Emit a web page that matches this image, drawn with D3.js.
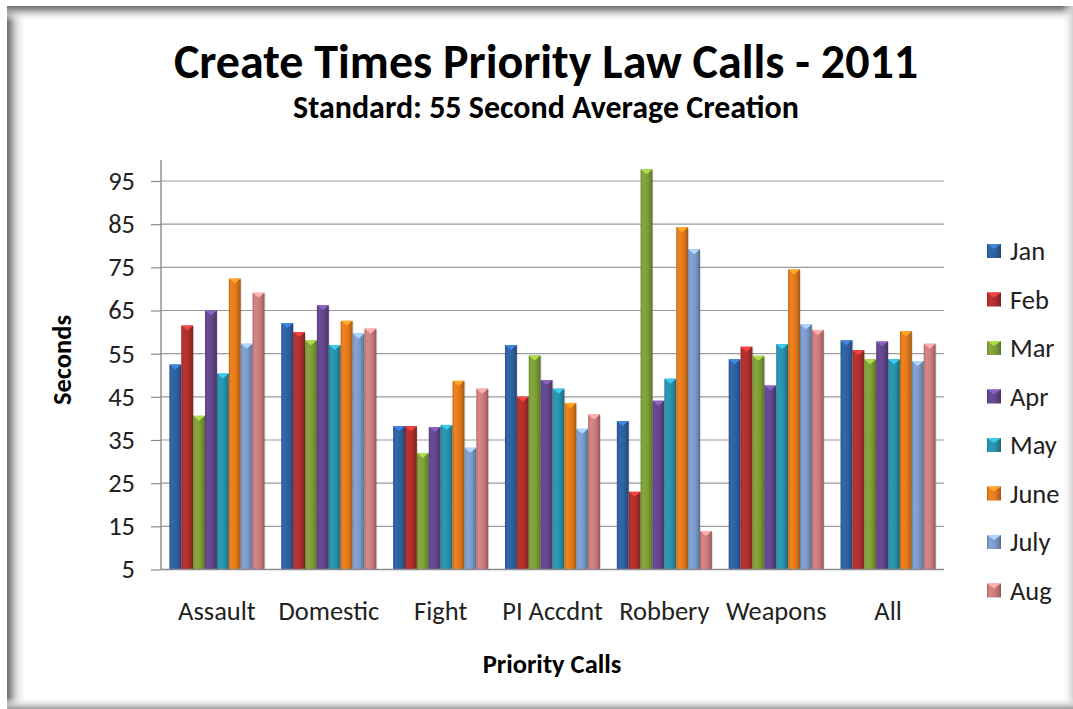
<!DOCTYPE html>
<html><head><meta charset="utf-8">
<script src="https://cdn.jsdelivr.net/npm/d3@7"></script>
<style>
html,body{margin:0;padding:0;background:#fff;}
svg{display:block;font-family:Carlito,Lato,"Open Sans",sans-serif;}
</style></head>
<body>
<svg id="c" width="1073" height="709"></svg>
<script>
const categories = ["Assault","Domestic","Fight","PI Accdnt","Robbery","Weapons","All"];
const months = ["Jan","Feb","Mar","Apr","May","June","July","Aug"];
const Jan  = [52.5, 62.1, 38.2, 57.0, 39.4, 53.7, 58.1];
const Feb  = [61.5, 60.0, 38.2, 45.0, 23.0, 56.6, 55.8];
const Mar  = [40.6, 58.1, 32.0, 54.6, 97.7, 54.5, 53.7];
const Apr  = [65.0, 66.2, 38.0, 48.9, 44.1, 47.6, 57.8];
const May  = [50.4, 57.0, 38.5, 46.9, 49.2, 57.2, 53.7];
const June = [72.4, 62.6, 48.7, 43.6, 84.3, 74.5, 60.2];
const July = [57.3, 59.7, 33.2, 37.6, 79.2, 61.8, 53.3];
const Aug  = [69.1, 60.8, 46.9, 40.9, 13.9, 60.5, 57.3];
const series = [Jan, Feb, Mar, Apr, May, June, July, Aug];
const yTicks = [5,15,25,35,45,55,65,75,85,95];
const colors = ["#2f62a3","#b0302e","#7fa038","#63488c","#2a93ad","#e57b1c","#7d9ccb","#cc7f7e"];

(function(){
const svg = d3.select("#c");
const defs = svg.append("defs");
const LBL = 26.5;

function lg(id, x1,y1,x2,y2, stops){
  const g = defs.append("linearGradient").attr("id",id).attr("x1",x1).attr("y1",y1).attr("x2",x2).attr("y2",y2);
  stops.forEach(s=>g.append("stop").attr("offset",s[0]).attr("stop-color",s[1]).attr("stop-opacity",s[2]));
}
lg("gl",0,0,1,0,[[0,"#6e6e6e",1],[0.15,"#8a8a8a",1],[0.5,"#cfcfcf",0.7],[1,"#ffffff",0]]);
lg("gt",0,0,0,1,[[0,"#6e6e6e",1],[0.2,"#959595",1],[0.6,"#d8d8d8",0.6],[1,"#ffffff",0]]);
lg("gr",1,0,0,0,[[0,"#d0d0d0",1],[1,"#ffffff",0]]);
lg("gb",0,1,0,0,[[0,"#9a9a9a",1],[0.4,"#d5d5d5",0.8],[1,"#ffffff",0]]);
svg.append("rect").attr("x",7).attr("y",6).attr("width",1066).attr("height",703).attr("fill","#fff");
svg.append("rect").attr("x",7).attr("y",6).attr("width",20).attr("height",703).attr("fill","url(#gl)");
svg.append("rect").attr("x",7).attr("y",6).attr("width",1066).attr("height",16).attr("fill","url(#gt)");
svg.append("rect").attr("x",1062).attr("y",6).attr("width",11).attr("height",703).attr("fill","url(#gr)");
svg.append("rect").attr("x",7).attr("y",697).attr("width",1066).attr("height",12).attr("fill","url(#gb)");

colors.forEach((c,i)=>{
  const base = d3.color(c);
  const g = defs.append("linearGradient").attr("id","b"+i).attr("x1",0).attr("x2",1).attr("y1",0).attr("y2",0);
  g.append("stop").attr("offset",0).attr("stop-color",base.darker(0.5));
  g.append("stop").attr("offset",0.18).attr("stop-color",base.brighter(0.15));
  g.append("stop").attr("offset",0.55).attr("stop-color",base);
  g.append("stop").attr("offset",0.85).attr("stop-color",base.darker(0.5));
  g.append("stop").attr("offset",1).attr("stop-color",base.darker(1.1));
});

const pL = 161, pR = 944, pT = 181, pB = 569.5;
const y = d3.scaleLinear().domain([5,95]).range([pB, pT]);
const x0 = d3.scaleBand().domain(categories).range([pL,pR]).paddingInner(0.15).paddingOuter(0.075);
const x1 = d3.scaleBand().domain(d3.range(months.length)).range([0, x0.bandwidth()]);

svg.append("g").selectAll("line").data(yTicks.slice(1)).join("line")
  .attr("x1",pL).attr("x2",pR).attr("y1",d=>y(d)).attr("y2",d=>y(d))
  .attr("stroke","#9a9a9a").attr("stroke-width",1.2);

const ya = svg.append("g").attr("transform",`translate(${pL},0)`)
  .call(d3.axisLeft(y).tickValues(yTicks).tickSize(10).tickPadding(16));
ya.select(".domain").attr("stroke","#8c8c8c").attr("stroke-width",1.4).attr("d",`M0,${pT-21}V${pB}`);
ya.selectAll(".tick line").attr("stroke","#8c8c8c").attr("stroke-width",1.2);
ya.selectAll(".tick text").attr("font-size",LBL).attr("fill","#222").attr("font-family","Carlito,Lato,sans-serif");

const groups = svg.append("g").selectAll("g").data(categories).join("g")
  .attr("transform",d=>`translate(${x0(d)},0)`);
groups.each(function(cat, ci){
  const g = d3.select(this);
  series.forEach((s,si)=>{
    const v = s[ci];
    const bx = x1(si), bw = x1.bandwidth(), by = y(v), bh = y(5)-y(v);
    g.append("rect").attr("x",bx+1).attr("y",by+1).attr("width",bw).attr("height",bh-1)
      .attr("fill","#000").attr("opacity",0.12);
    g.append("rect").attr("x",bx).attr("y",by).attr("width",bw).attr("height",bh)
      .attr("fill",`url(#b${si})`);
    const c = d3.color(colors[si]);
    g.append("path").attr("d",`M${bx},${by}L${bx+bw},${by}L${bx+bw/2},${by+5}Z`)
      .attr("fill",c.brighter(0.9));
  });
});

svg.append("line").attr("x1",pL).attr("x2",pR).attr("y1",pB).attr("y2",pB)
  .attr("stroke","#8c8c8c").attr("stroke-width",1.4);

svg.append("g").selectAll("text").data(categories).join("text")
  .attr("x",d=>x0(d)+x0.bandwidth()/2).attr("y",620).attr("text-anchor","middle")
  .attr("font-size",LBL).attr("fill","#222").text(d=>d);

svg.append("text").attr("x",546).attr("y",78).attr("text-anchor","middle")
  .attr("font-size",48).attr("font-weight","bold").attr("fill","#000").text("Create Times Priority Law Calls - 2011");
svg.append("text").attr("x",546).attr("y",118).attr("text-anchor","middle")
  .attr("font-size",32).attr("font-weight","bold").attr("fill","#000").text("Standard: 55 Second Average Creation");
svg.append("text").attr("x",552).attr("y",673).attr("text-anchor","middle")
  .attr("font-size",LBL).attr("font-weight","bold").attr("fill","#000").text("Priority Calls");
svg.append("text").attr("transform","translate(71,360) rotate(-90)").attr("text-anchor","middle")
  .attr("font-size",LBL).attr("font-weight","bold").attr("fill","#000").text("Seconds");

const lgG = svg.append("g").selectAll("g").data(months).join("g")
  .attr("transform",(d,i)=>`translate(987,${251 + i*48.5})`);
lgG.append("rect").attr("x",0).attr("y",-7).attr("width",14).attr("height",14).attr("fill",(d,i)=>`url(#b${i})`);
lgG.append("path").attr("d","M0,-7L14,-7L7,-2Z").attr("fill",(d,i)=>d3.color(colors[i]).brighter(0.9));
lgG.append("text").attr("x",23).attr("y",9).attr("font-size",LBL).attr("fill","#222").text(d=>d);
})();
</script>
</body></html>
